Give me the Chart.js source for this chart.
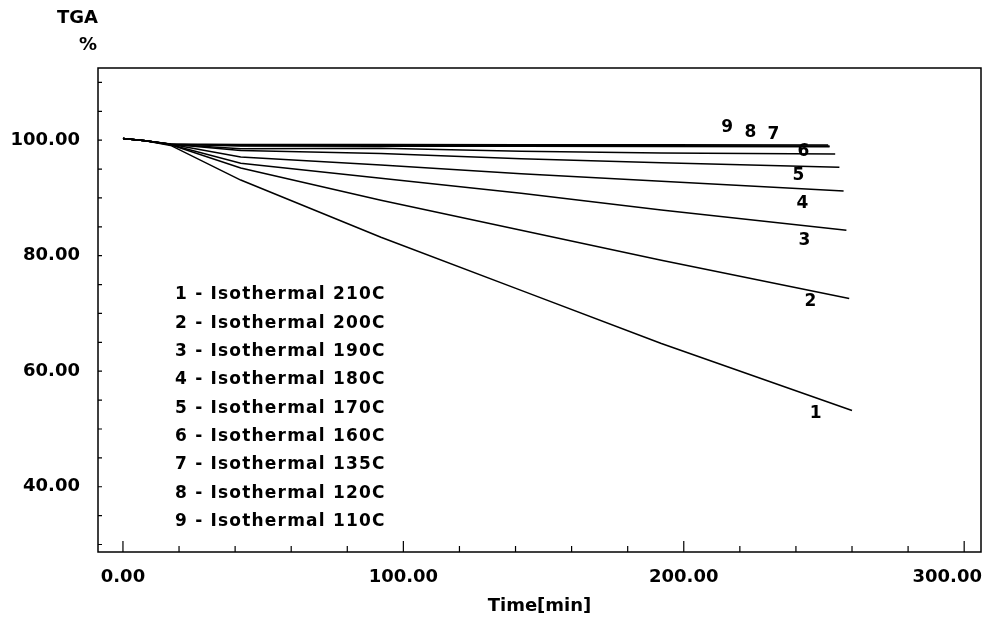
<!DOCTYPE html>
<html>
<head>
<meta charset="utf-8">
<script src="https://cdn.jsdelivr.net/npm/chart.js@4"></script>
<style>
  html, body { margin: 0; padding: 0; background: #fff; }
  #wrap { width: 987px; height: 619px; position: relative; }
</style>
</head>
<body>
<div id="wrap"><canvas id="tgaChart"></canvas></div>
<script>
// time points shared by every run (min), last point differs per run
const timeMin = [0, 8, 17, 42, 92, 142, 192];
const endTime = [260, 259, 258, 257, 255.5, 254, 252, 252, 251.5];

// TGA %, one array per isothermal run
const tga1 = [100.3, 99.9, 99.1, 93.1, 83.2, 74.0, 64.8, 53.2];
const tga2 = [100.3, 99.9, 99.2, 95.2, 89.6, 84.4, 79.2, 72.6];
const tga3 = [100.3, 99.9, 99.2, 96.0, 93.4, 90.8, 87.9, 84.4];
const tga4 = [100.3, 99.9, 99.3, 97.1, 95.7, 94.2, 92.9, 91.2];
const tga5 = [100.3, 99.9, 99.3, 98.2, 97.7, 96.8, 96.1, 95.3];
const tga6 = [100.3, 99.9, 99.3, 98.5, 98.6, 98.1, 97.8, 97.6];
const tga7 = [100.3, 99.9, 99.3, 99.0, 98.95, 98.95, 98.9, 98.85];
const tga8 = [100.3, 99.9, 99.3, 99.1, 99.1, 99.1, 99.05, 99.0];
const tga9 = [100.3, 99.9, 99.35, 99.25, 99.25, 99.2, 99.2, 99.15];

const series = [tga1, tga2, tga3, tga4, tga5, tga6, tga7, tga8, tga9];
const runNames = ['1 - Isothermal 210C', '2 - Isothermal 200C', '3 - Isothermal 190C',
  '4 - Isothermal 180C', '5 - Isothermal 170C', '6 - Isothermal 160C',
  '7 - Isothermal 135C', '8 - Isothermal 120C', '9 - Isothermal 110C'];

// axis ticks
const xTickValues = [0, 20, 40, 60, 80, 100, 120, 140, 160, 180, 200, 220, 240, 260, 280, 300];
const xLabelValues = [0, 100, 200, 300];
const yTickValues = [30, 35, 40, 45, 50, 55, 60, 65, 70, 75, 80, 85, 90, 95, 100, 105, 110];

// curve numbers written next to the lines (time, TGA)
const tagText = ['1', '2', '3', '4', '5', '6', '7', '8', '9'];
const tagTime = [247, 245.2, 243, 242.3, 240.9, 242.7, 232, 223.8, 215.5];
const tagTga = [52.7, 72.1, 82.7, 89.1, 93.9, 98.1, 101.0, 101.4, 102.1];

const boldFont = (size) => 'bold ' + size + 'px "DejaVu Sans"';

const datasets = series.map((vals, i) => ({
  label: runNames[i],
  data: vals.map((v, j) => ({ x: j < timeMin.length ? timeMin[j] : endTime[i], y: v })),
  borderColor: '#000',
  borderWidth: 1.5,
  pointRadius: 0,
  tension: 0,
  fill: false
}));

const decorations = {
  id: 'decorations',
  afterDraw(chart) {
    const { ctx, chartArea: a, scales } = chart;
    const xs = scales.x, ys = scales.y;
    ctx.save();
    ctx.strokeStyle = '#000';
    ctx.lineWidth = 1.5;
    ctx.strokeRect(a.left, a.top, a.right - a.left, a.bottom - a.top);

    // inward ticks
    ctx.lineWidth = 1.2;
    ctx.beginPath();
    xTickValues.forEach(v => {
      const px = xs.getPixelForValue(v);
      const len = v % 100 === 0 ? 11 : 6;
      ctx.moveTo(px, a.bottom);
      ctx.lineTo(px, a.bottom - len);
    });
    yTickValues.forEach(v => {
      const py = ys.getPixelForValue(v);
      ctx.moveTo(a.left, py);
      ctx.lineTo(a.left + 4, py);
    });
    ctx.stroke();

    ctx.fillStyle = '#000';
    ctx.textBaseline = 'middle';

    // x tick labels, last one kept inside the canvas
    ctx.font = boldFont(18);
    ctx.textAlign = 'center';
    xLabelValues.forEach(v => {
      const s = v.toFixed(2);
      const w = ctx.measureText(s).width;
      let px = xs.getPixelForValue(v);
      if (px + w / 2 > chart.width - 5) px = chart.width - 5 - w / 2;
      ctx.fillText(s, px, a.bottom + 25);
    });

    // y axis title
    ctx.textAlign = 'right';
    ctx.fillText('TGA', 98, 18);
    ctx.fillText('%', 97, 45);

    // curve numbers
    ctx.font = boldFont(17);
    ctx.textAlign = 'center';
    tagText.forEach((s, i) => {
      ctx.fillText(s, xs.getPixelForValue(tagTime[i]), ys.getPixelForValue(tagTga[i]));
    });

    // run list
    ctx.font = boldFont(17);
    ctx.letterSpacing = '1.2px';
    ctx.textAlign = 'left';
    runNames.forEach((s, i) => {
      ctx.fillText(s, a.left + 77, a.top + 227 + i * 28.3);
    });
    ctx.restore();
  }
};

new Chart(document.getElementById('tgaChart').getContext('2d'), {
  type: 'line',
  data: { datasets: datasets },
  options: {
    responsive: true,
    maintainAspectRatio: false,
    animation: false,
    layout: { padding: { top: 68, right: 6, left: 0, bottom: 0 } },
    plugins: {
      legend: { display: false },
      tooltip: { enabled: false }
    },
    scales: {
      x: {
        type: 'linear',
        min: -8.9,
        max: 306,
        afterBuildTicks: (s) => { s.ticks = xTickValues.map(v => ({ value: v })); },
        afterFit: (s) => { s.height = 67; s.paddingLeft = 0; s.paddingRight = 0; },
        grid: { display: false, drawTicks: false },
        border: { display: false },
        ticks: {
          autoSkip: false,
          maxRotation: 0,
          callback: () => ''
        },
        title: {
          display: true,
          text: 'Time[min]',
          color: '#000',
          font: { family: 'DejaVu Sans', weight: 'bold', size: 18 },
          padding: { top: 0, bottom: 2 }
        }
      },
      y: {
        min: 28.7,
        max: 112.5,
        afterBuildTicks: (s) => { s.ticks = yTickValues.map(v => ({ value: v })); },
        afterFit: (s) => { s.width = 98; s.paddingTop = 0; s.paddingBottom = 0; },
        grid: { display: false, drawTicks: false },
        border: { display: false },
        ticks: {
          autoSkip: false,
          padding: 18,
          color: '#000',
          font: { family: 'DejaVu Sans', weight: 'bold', size: 18 },
          callback: (v) => (v % 20 === 0 ? v.toFixed(2) : '')
        }
      }
    }
  },
  plugins: [decorations]
});
</script>
</body>
</html>
